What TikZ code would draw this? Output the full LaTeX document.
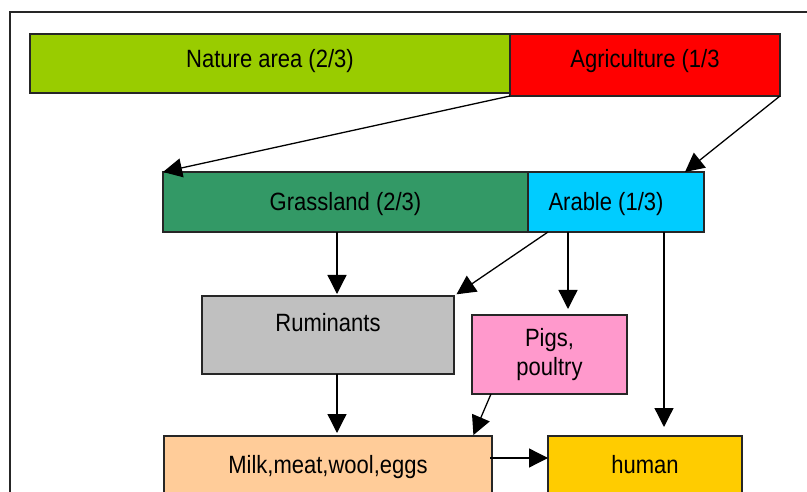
\documentclass[tikz,border=0pt]{standalone}
\usepackage{fontspec}
\setmainfont{Liberation Sans}[FakeStretch=0.88]
\usetikzlibrary{positioning,arrows.meta,calc}
\definecolor{naturegreen}{HTML}{99CC00}
\definecolor{agrired}{HTML}{FF0000}
\definecolor{grassgreen}{HTML}{339966}
\definecolor{arableblue}{HTML}{00CCFF}
\definecolor{rumgray}{HTML}{C0C0C0}
\definecolor{pigpink}{HTML}{FF99CC}
\definecolor{milkpeach}{HTML}{FFCC99}
\definecolor{humangold}{HTML}{FFCC00}
\tikzset{
    flow box/.style={
        rectangle,
        draw=black!85,
        line width=1.3pt,
        inner sep=0pt,
        outer sep=0pt,
        anchor=north west,
        align=center,
        font=\fontsize{25}{29}\selectfont,
    },
    flow/.style={
        -{Triangle[length=19pt,width=19pt]},
        line width=1.3pt,
    },
}

\begin{document}
\begin{tikzpicture}[x=1pt,y=-1pt]
    \useasboundingbox (0,0) rectangle (807,492);
    \clip (0,0) rectangle (807,492);
    \draw[line width=1.3pt,black!85] (10,12) rectangle (840,530);
    % land use
    \node[flow box,fill=naturegreen,minimum width=480pt,text height=34pt,text depth=25pt] (nature) at (30,34) {Nature area (2/3)};
    \node[flow box,fill=agrired,minimum width=270pt,text height=34pt,text depth=28pt] (agri) at (510,34) {Agriculture (1/3};
    \node[flow box,fill=grassgreen,minimum width=365pt,text height=39pt,text depth=21pt] (grass) at (163,172) {Grassland (2/3)};
    \node[flow box,fill=arableblue,minimum width=176pt,text height=39pt,text depth=21pt,inner xsep=0pt,align=left] (arable) at (528,172) {\hspace*{-20pt}Arable (1/3)};
    % animals
    \node[flow box,fill=rumgray,minimum width=252pt,text height=35pt,text depth=43pt] (rum) at (202,296) {Ruminants};
    \node[flow box,fill=pigpink,minimum width=155pt,minimum height=79pt] (pigs) at (472,315) {Pigs,\\poultry};
    % products
    \node[flow box,fill=milkpeach,minimum width=328pt,text height=37pt,text depth=23pt] (milk) at (164,436) {Milk,meat,wool,eggs};
    \node[flow box,fill=humangold,minimum width=194pt,text height=37pt,text depth=23pt] (human) at (548,436) {human};
    \draw[flow] (agri.south west) -- (grass.north west);
    \draw[flow] (agri.south east) -- ([xshift=-19pt]arable.north east);
    \draw[flow,shorten >=2pt] ([xshift=174pt]grass.south west) -- ([xshift=135pt]rum.north west);
    \draw[flow,shorten >=3pt] ([xshift=20pt]arable.south west) -- (rum.north east);
    \draw[flow,shorten >=6pt] ([xshift=40pt]arable.south west) -- ([xshift=96pt]pigs.north west);
    \draw[flow,shorten >=9pt] ([xshift=136pt]arable.south west) -- ([xshift=116pt]human.north west);
    \draw[flow,shorten >=3pt] ([xshift=135pt]rum.south west) -- ([xshift=173pt]milk.north west);
    \draw[flow,shorten >=1pt] ([xshift=19pt]pigs.south west) -- ([xshift=-19pt]milk.north east);
    \draw[flow] ([xshift=-2pt,yshift=8pt]milk.east) -- ([yshift=8pt]human.west);
\end{tikzpicture}
\end{document}
